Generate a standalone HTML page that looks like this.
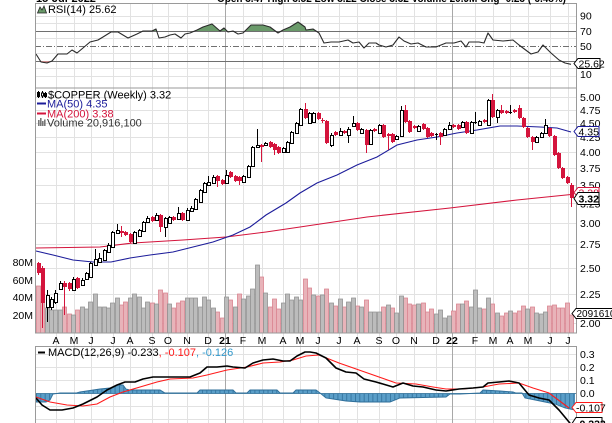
<!DOCTYPE html>
<html><head><meta charset="utf-8">
<style>
html,body{margin:0;padding:0;background:#fff;width:612px;height:423px;overflow:hidden;}
svg{display:block;font-family:"Liberation Sans",Arial,sans-serif;}
</style></head><body>
<svg width="612" height="423" viewBox="0 0 612 423" xmlns="http://www.w3.org/2000/svg">
<defs>
<clipPath id="cpP"><rect x="35" y="88" width="542" height="245"/></clipPath>
<clipPath id="cpM"><rect x="35" y="346" width="542" height="80"/></clipPath>
<clipPath id="cpAbove"><rect x="35" y="3" width="542" height="28"/></clipPath>
<clipPath id="cpBelow"><rect x="35" y="61" width="542" height="27"/></clipPath>
<pattern id="vb" x="36" y="0" width="4.37" height="20" patternUnits="userSpaceOnUse">
<rect x="0" y="0" width="4.37" height="20" fill="#5a9ec8"/>
<rect x="0" y="0" width="0.8" height="20" fill="#2f6f9a"/>
</pattern>
</defs>
<rect x="0" y="0" width="612" height="423" fill="#fff"/>

<!-- GRID -->
<path fill="none" stroke="#e2e2e2" stroke-width="1" d="M56.5,3V423M74.5,3V423M91.5,3V423M113.5,3V423M130.5,3V423M152.5,3V423M168.5,3V423M187.5,3V423M208.5,3V423M243.5,3V423M262.5,3V423M283.5,3V423M300.5,3V423M318.5,3V423M339.5,3V423M357.5,3V423M379.5,3V423M396.5,3V423M414.5,3V423M436.5,3V423M475.5,3V423M493.5,3V423M510.5,3V423M528.5,3V423M550.5,3V423M568.5,3V423
M35,16.5H577M35,23.5H577M35,38.5H577M35,53.5H577M35,68.5H577M35,76.5H577
M35,97.5H577M35,110.5H577M35,123.5H577M35,137.5H577M35,152.5H577M35,168.5H577M35,185.5H577M35,203.5H577M35,223.5H577M35,244.5H577M35,268.5H577M35,294.5H577M35,323.5H577
M35,354.5H577M35,367.5H577M35,380.5H577M35,393.5H577M35,406.5H577M35,419.5H577"/>
<path fill="none" stroke="#a8a8a8" stroke-width="1" d="M225.5,3V423M452.5,3V423"/>
<path fill="none" stroke="#707070" stroke-width="1" d="M35,31.5H577M35,61.5H577"/>
<path fill="none" stroke="#707070" stroke-width="1" stroke-dasharray="6,2,1,2" d="M35,46.5H577"/>

<!-- RSI -->
<g>
<polygon clip-path="url(#cpAbove)" fill="#6a9a6a" points="36,54 41,62 47,63 52,61 58,54 67,54 72,50 77,53 83,48 90,42 98,40 103,37 111,32 118,32 128,38 137,34 143,31 152,31 156,29 159,38 165,37 170,35 175,34 181,38 185,34 190,33 197,30 203,27 212,24 220,31 224,28 228,32 233,31 238,34 243,33 251,25 263,25 270,27 278,33 283,30 290,27 298,22 305,27 306,30 313,29 319,33 324,43 331,42 339,42 348,40 353,43 359,42 364,48 369,43 376,43 379,45 386,47 393,45 399,37 404,41 411,44 418,43 426,47 436,47 446,43 454,43 461,41 466,47 469,42 479,42 484,43 488,33 493,40 503,41 513,40 519,45 531,54 538,52 543,45 551,53 559,60 565,63 571,64.3 571,31 36,31"/>
<polygon clip-path="url(#cpBelow)" fill="#cf8f8f" points="36,54 41,62 47,63 52,61 58,54 67,54 72,50 77,53 83,48 90,42 98,40 571,40 571,61 36,61"/>
<polyline fill="none" stroke="#2a2a2a" stroke-width="1.1" stroke-linejoin="round" points="36,54 41,62 47,63 52,61 58,54 67,54 72,50 77,53 83,48 90,42 98,40 103,37 111,32 118,32 128,38 137,34 143,31 152,31 156,29 159,38 165,37 170,35 175,34 181,38 185,34 190,33 197,30 203,27 212,24 220,31 224,28 228,32 233,31 238,34 243,33 251,25 263,25 270,27 278,33 283,30 290,27 298,22 305,27 306,30 313,29 319,33 324,43 331,42 339,42 348,40 353,43 359,42 364,48 369,43 376,43 379,45 386,47 393,45 399,37 404,41 411,44 418,43 426,47 436,47 446,43 454,43 461,41 466,47 469,42 479,42 484,43 488,33 493,40 503,41 513,40 519,45 531,54 538,52 543,45 551,53 559,60 565,63 571,64.3"/>
</g>

<!-- VOLUME -->
<g clip-path="url(#cpP)" stroke-width="0.8">
<path fill="#e8b3b9" stroke="#d9838f" d="M36.5,286h4V333h-4zM40.5,300h4V333h-4zM62.5,307h4V333h-4zM67.5,314h4V333h-4zM75.5,310h4V333h-4zM119.5,305h4V333h-4zM123.5,302h4V333h-4zM150.5,303h4V333h-4zM158.5,290h4V333h-4zM163.5,293h4V333h-4zM171.5,308h4V333h-4zM176.5,303h4V333h-4zM180.5,301h4V333h-4zM215.5,312h4V333h-4zM220.5,318h4V333h-4zM228.5,300h4V333h-4zM237.5,294h4V333h-4zM259.5,277h4V333h-4zM268.5,307h4V333h-4zM272.5,299h4V333h-4zM276.5,309h4V333h-4zM303.5,279h4V333h-4zM307.5,288h4V333h-4zM316.5,296h4V333h-4zM324.5,289h4V333h-4zM333.5,306h4V333h-4zM342.5,307h4V333h-4zM355.5,306h4V333h-4zM364.5,300h4V333h-4zM381.5,307h4V333h-4zM390.5,308h4V333h-4zM403.5,298h4V333h-4zM407.5,304h4V333h-4zM412.5,305h4V333h-4zM421.5,303h4V333h-4zM425.5,312h4V333h-4zM429.5,309h4V333h-4zM451.5,311h4V333h-4zM456.5,304h4V333h-4zM464.5,301h4V333h-4zM482.5,309h4V333h-4zM490.5,304h4V333h-4zM499.5,316h4V333h-4zM504.5,313h4V333h-4zM512.5,313h4V333h-4zM517.5,311h4V333h-4zM521.5,306h4V333h-4zM530.5,307h4V333h-4zM547.5,306h4V333h-4zM552.5,305h4V333h-4zM556.5,308h4V333h-4zM560.5,308h4V333h-4zM565.5,303h4V333h-4zM569.5,315h4V333h-4z"/>
<path fill="#bcbcbc" stroke="#929292" d="M45.5,308h4V333h-4zM49.5,310h4V333h-4zM53.5,310h4V333h-4zM58.5,310h4V333h-4zM71.5,315h4V333h-4zM80.5,307h4V333h-4zM84.5,309h4V333h-4zM88.5,302h4V333h-4zM93.5,294h4V333h-4zM97.5,307h4V333h-4zM102.5,307h4V333h-4zM106.5,308h4V333h-4zM110.5,303h4V333h-4zM115.5,298h4V333h-4zM128.5,298h4V333h-4zM132.5,294h4V333h-4zM137.5,297h4V333h-4zM141.5,308h4V333h-4zM145.5,302h4V333h-4zM154.5,304h4V333h-4zM167.5,304h4V333h-4zM185.5,298h4V333h-4zM189.5,298h4V333h-4zM193.5,298h4V333h-4zM198.5,307h4V333h-4zM202.5,297h4V333h-4zM206.5,300h4V333h-4zM211.5,308h4V333h-4zM224.5,297h4V333h-4zM233.5,307h4V333h-4zM241.5,299h4V333h-4zM246.5,296h4V333h-4zM250.5,289h4V333h-4zM255.5,265h4V333h-4zM263.5,293h4V333h-4zM281.5,303h4V333h-4zM285.5,294h4V333h-4zM289.5,300h4V333h-4zM294.5,297h4V333h-4zM298.5,300h4V333h-4zM311.5,295h4V333h-4zM320.5,295h4V333h-4zM329.5,303h4V333h-4zM338.5,299h4V333h-4zM346.5,302h4V333h-4zM351.5,298h4V333h-4zM359.5,307h4V333h-4zM368.5,312h4V333h-4zM372.5,312h4V333h-4zM377.5,312h4V333h-4zM386.5,305h4V333h-4zM394.5,313h4V333h-4zM399.5,296h4V333h-4zM416.5,304h4V333h-4zM434.5,314h4V333h-4zM438.5,310h4V333h-4zM442.5,318h4V333h-4zM447.5,316h4V333h-4zM460.5,304h4V333h-4zM469.5,307h4V333h-4zM473.5,290h4V333h-4zM477.5,308h4V333h-4zM486.5,298h4V333h-4zM495.5,313h4V333h-4zM508.5,311h4V333h-4zM525.5,309h4V333h-4zM534.5,313h4V333h-4zM539.5,314h4V333h-4zM543.5,312h4V333h-4z"/>
</g>

<!-- MOVING AVERAGES -->
<g clip-path="url(#cpP)" fill="none" stroke-width="1.1">
<polyline stroke="#d4143c" points="36,248 100,247 133,243 183,240 226,237 266,232 300,227 367,217 450,208 517,200 571,194.5"/>
<polyline stroke="#1c1c9a" points="36,251 53,255 73,260 93,262 111,262 130,258 150,255 173,252 193,247 213,242 233,235 250,227 266,215 286,203 300,193 317,183 337,175 357,165 377,157 397,145 417,140 437,137 457,133 477,130 500,126 517,126 540,127 557,128 571,132"/>
</g>

<!-- CANDLES -->
<g clip-path="url(#cpP)">
<path fill="none" stroke="#000" stroke-width="1" d="M47.5,290V322M51.5,297V310M55.5,290V304M60.5,281V290M73.5,277V291M82.5,278V286M86.5,272V280M90.5,262V278M95.5,249V266M99.5,253V263M104.5,249V261M108.5,243V253M112.5,231V248M117.5,224V234M134.5,231V244M139.5,229V237M143.5,221V232M147.5,216V223M156.5,213V221M165.5,217V237M169.5,216V224M178.5,207V220M187.5,208V221M191.5,206V212M195.5,198V210M200.5,189V203M204.5,182V193M208.5,176V186M213.5,175V184M226.5,170V184M243.5,175V183M248.5,165V178M252.5,146V167M257.5,129V148M265.5,142V146M283.5,147V153M287.5,141V153M291.5,131V144M296.5,122V134M300.5,108V126M309.5,112V124M313.5,112V123M331.5,133V147M340.5,128V136M348.5,127V143M353.5,116V127M361.5,128V134M370.5,129V145M379.5,124V134M396.5,135V140M401.5,106V137M418.5,125V132M436.5,133V140M435,134.5h3M444.5,128V136M449.5,122V130M462.5,121V128M471.5,121V134M475.5,112V124M474,122.5h3M479.5,120V126M488.5,99V126M497.5,109V123M510.5,105V114M509,112.5h3M536.5,136V143M541.5,132V138M545.5,119V134"/>
<path fill="#fff" stroke="#000" stroke-width="1" d="M46.5,295.5h3v12h-3zM50.5,299.5h3v8h-3zM54.5,293.5h3v9h-3zM59.5,283.5h3v6h-3zM72.5,279.5h3v11h-3zM81.5,280.5h3v5h-3zM85.5,273.5h3v6h-3zM89.5,263.5h3v14h-3zM94.5,259.5h3v6h-3zM98.5,258.5h3v4h-3zM103.5,250.5h3v10h-3zM107.5,245.5h3v7h-3zM111.5,232.5h3v15h-3zM116.5,230.5h3v3h-3zM133.5,232.5h3v11h-3zM138.5,230.5h3v6h-3zM142.5,222.5h3v9h-3zM146.5,218.5h3v4h-3zM155.5,215.5h3v5h-3zM164.5,218.5h3v9h-3zM168.5,217.5h3v6h-3zM177.5,213.5h3v6h-3zM186.5,210.5h3v10h-3zM190.5,208.5h3v3h-3zM194.5,199.5h3v10h-3zM199.5,190.5h3v12h-3zM203.5,183.5h3v9h-3zM207.5,182.5h3v3h-3zM212.5,177.5h3v6h-3zM225.5,175.5h3v8h-3zM242.5,176.5h3v6h-3zM247.5,166.5h3v11h-3zM251.5,147.5h3v19h-3zM256.5,145.5h3v2h-3zM264.5,143.5h3v2h-3zM282.5,148.5h3v4h-3zM286.5,142.5h3v10h-3zM290.5,132.5h3v11h-3zM295.5,123.5h3v10h-3zM299.5,109.5h3v16h-3zM308.5,113.5h3v10h-3zM312.5,113.5h3v9h-3zM330.5,135.5h3v10h-3zM339.5,131.5h3v4h-3zM347.5,129.5h3v6h-3zM352.5,123.5h3v3h-3zM360.5,129.5h3v4h-3zM369.5,130.5h3v14h-3zM378.5,125.5h3v8h-3zM395.5,136.5h3v3h-3zM400.5,110.5h3v26h-3zM417.5,126.5h3v5h-3zM443.5,129.5h3v6h-3zM448.5,125.5h3v4h-3zM461.5,122.5h3v5h-3zM470.5,122.5h3v11h-3zM478.5,121.5h3v4h-3zM487.5,100.5h3v25h-3zM496.5,110.5h3v7h-3zM535.5,137.5h3v5h-3zM540.5,133.5h3v4h-3zM544.5,125.5h3v8h-3z"/>
<path fill="none" stroke="#d4143c" stroke-width="1" d="M38.5,262V275M42.5,266V328M64.5,281V315M69.5,282V291M77.5,277V289M121.5,226V237M125.5,231V236M130.5,233V243M152.5,216V222M160.5,214V232M173.5,216V221M182.5,212V221M217.5,175V187M222.5,179V185M230.5,171V178M235.5,175V182M239.5,176V185M261.5,144V162M270.5,141V148M274.5,143V155M278.5,146V154M305.5,103V119M318.5,112V120M322.5,118V123M326.5,120V144M335.5,131V136M344.5,130V134M357.5,122V131M366.5,129V153M374.5,128V132M383.5,124V138M388.5,133V150M392.5,133V143M405.5,105V123M409.5,120V133M414.5,125V129M423.5,123V130M427.5,127V138M431.5,132V137M440.5,132V145M453.5,124V128M458.5,124V130M466.5,121V134M484.5,119V123M492.5,94V118M501.5,105V114M506.5,110V114M514.5,109V113M519.5,105V119M523.5,117V128M527.5,127V138M532.5,136V150M549.5,127V137M554.5,135V156M558.5,152V169M562.5,167V179M567.5,176V184M571.5,183V207"/>
<path fill="#d4143c" stroke="none" d="M37,263h4v10h-4zM41,268h4v35h-4zM63,283h4v4h-4zM68,283h4v6h-4zM76,278h4v10h-4zM120,231h4v2h-4zM124,232h4v3h-4zM129,234h4v8h-4zM151,217h4v4h-4zM159,215h4v12h-4zM172,217h4v3h-4zM181,213h4v7h-4zM216,176h4v5h-4zM221,180h4v4h-4zM229,172h4v5h-4zM234,176h4v5h-4zM238,177h4v4h-4zM260,145h4v2h-4zM269,142h4v5h-4zM273,144h4v6h-4zM277,147h4v6h-4zM304,109h4v9h-4zM317,113h4v6h-4zM321,120h4v1h-4zM325,121h4v22h-4zM334,132h4v3h-4zM343,131h4v2h-4zM356,123h4v7h-4zM365,130h4v15h-4zM373,129h4v2h-4zM382,125h4v12h-4zM387,134h4v2h-4zM391,134h4v8h-4zM404,110h4v12h-4zM408,121h4v11h-4zM413,126h4v2h-4zM422,124h4v5h-4zM426,128h4v9h-4zM430,133h4v3h-4zM439,133h4v4h-4zM452,125h4v2h-4zM457,125h4v4h-4zM465,122h4v11h-4zM483,120h4v2h-4zM491,100h4v17h-4zM500,110h4v3h-4zM505,111h4v2h-4zM513,110h4v2h-4zM518,108h4v10h-4zM522,118h4v9h-4zM526,128h4v9h-4zM531,137h4v5h-4zM548,128h4v8h-4zM553,136h4v19h-4zM557,153h4v15h-4zM561,168h4v10h-4zM566,177h4v6h-4zM570,185h4v13h-4z"/>
</g>

<!-- MACD -->
<g clip-path="url(#cpM)">
<path fill="url(#vb)" stroke="none" d="M36,393.5L36,402L46,402L50,400L53,394L60,393L76,393L80,392L90,390.5L100,389L110,388L117,385L123,385L126,389L130,390L160,390L165,393L197,393L200,390L233,390L236,393L247,393L250,390L277,390L280,393L293,393L296,390L316,390L320,393L326,398L346,401L360,402L390,402L400,398L446,397L450,394L460,394L480,393L483,390L500,391L513,392L516,393L522,393L525,398L545,402L555,404L565,408L575,410L575,393.5Z"/>
<polyline fill="none" stroke="#2f6f9a" stroke-width="0.9" points="36,402 46,402 50,400 53,394 60,393 76,393 80,392 90,390.5 100,389 110,388 117,385 123,385 126,389 130,390 160,390 165,393 197,393 200,390 233,390 236,393 247,393 250,390 277,390 280,393 293,393 296,390 316,390 320,393 326,398 346,401 360,402 390,402 400,398 446,397 450,394 460,394 480,393 483,390 500,391 513,392 516,393 522,393 525,398 545,402 555,404 565,408 575,410"/>
<line x1="35" y1="393.5" x2="577" y2="393.5" stroke="#2f6f9a" stroke-width="0.7"/>
<polyline fill="none" stroke="#ff1a1a" stroke-width="1.1" points="36,397 50,402 67,405 83,406 97,404 110,397 123,392 140,387 157,382 170,379 193,378 207,375 227,370 247,367 263,363 280,362 293,360 306,356 319,355 339,363 359,370 379,377 396,383 416,384 433,387 446,389 463,389 483,387 499,384 519,383 533,388 549,393 569,408"/>
<polyline fill="none" stroke="#000" stroke-width="1.6" stroke-linejoin="round" points="36,398 42,405 50,410 62,410 73,408 83,404 97,397 107,390 117,385 125,382 135,382 143,379 153,377 167,377 180,377 190,377 200,373 207,367 217,367 227,366 233,367 245,368 253,363 263,360 273,359 283,361 290,361 297,356 305,352 310,352 316,353 326,358 336,368 346,372 356,373 364,379 376,382 393,387 403,383 413,386 423,387 436,390 446,391 459,389 473,388 483,387 488,383 499,382 509,381 519,383 529,395 539,398 549,400 559,410 569,422 574,428"/>
</g>

<!-- PANEL BORDERS -->
<g fill="none" stroke="#9a9a9a" stroke-width="1">
<rect x="35.5" y="3.5" width="541" height="84.5"/>
<rect x="35.5" y="88" width="541" height="245"/>
<rect x="35.5" y="346.5" width="541" height="80"/>
</g>

<!-- header (cut off) -->
<text x="36" y="2" font-size="11" font-weight="bold" fill="#000">15-Jul-2022</text>
<text x="217" y="2" font-size="11" font-weight="bold" fill="#000" textLength="349" lengthAdjust="spacingAndGlyphs">Open 3.47  High 3.52  Low 3.22  Close 3.32  Volume 20.9M  Chg -0.23 (-6.48%)</text>

<!-- RSI legend -->
<path d="M37.5,13 L40,7 L42,10 L44,6 L46.5,13 Z" fill="#6a9a6a" stroke="#222" stroke-width="0.8"/>
<text x="48" y="13" font-size="11" fill="#000">RSI(14) 25.62</text>

<!-- price legend -->
<g stroke="#000" stroke-width="1">
<line x1="38.5" y1="91" x2="38.5" y2="98"/><rect x="37.5" y="92.5" width="2" height="4" fill="#000"/>
<line x1="42.5" y1="91" x2="42.5" y2="98"/><rect x="41.5" y="93" width="2" height="3" fill="#fff"/>
<line x1="45.5" y1="92" x2="45.5" y2="98"/><rect x="44.5" y="93.5" width="2" height="3" fill="#000"/>
</g>
<text x="48" y="98.5" font-size="11" fill="#000">$COPPER (Weekly) 3.32</text>
<line x1="37" y1="103.5" x2="46" y2="103.5" stroke="#1c1c9a" stroke-width="2"/>
<text x="47" y="107.5" font-size="11" fill="#1c1c9a">MA(50) 4.35</text>
<line x1="37" y1="113.5" x2="46" y2="113.5" stroke="#d4143c" stroke-width="2"/>
<text x="47" y="117.5" font-size="11" fill="#d4143c">MA(200) 3.38</text>
<g fill="#777"><rect x="38" y="120" width="1.6" height="6"/><rect x="40" y="118" width="1.6" height="8"/><rect x="42" y="121" width="1.6" height="5"/><rect x="44" y="119.5" width="1.6" height="6.5"/></g>
<text x="47" y="126.5" font-size="11" fill="#333">Volume 20,916,100</text>

<!-- MACD legend -->
<line x1="38" y1="352.5" x2="45" y2="352.5" stroke="#000" stroke-width="2"/>
<text x="48" y="356" font-size="11"><tspan fill="#000">MACD(12,26,9) -0.233</tspan><tspan fill="#ff1a1a">, -0.107</tspan><tspan fill="#3399cc">, -0.126</tspan></text>

<!-- RSI axis labels -->
<g font-size="10.5" fill="#000">
<text x="580" y="19.5">90</text>
<text x="580" y="35">70</text>
<text x="580" y="50">50</text>
<text x="580" y="65">30</text>
<text x="580" y="78">10</text>
</g>
<!-- price axis labels -->
<g font-size="10.5" fill="#000">
<text x="580" y="101">5.00</text>
<text x="580" y="114">4.75</text>
<text x="580" y="127">4.50</text>
<text x="580" y="141">4.25</text>
<text x="580" y="156">4.00</text>
<text x="580" y="172">3.75</text>
<text x="580" y="189">3.50</text>
<text x="580" y="207.5">3.25</text>
<text x="580" y="227">3.00</text>
<text x="580" y="248">2.75</text>
<text x="580" y="272">2.50</text>
<text x="580" y="298">2.25</text>
<text x="580" y="327">2.00</text>
</g>
<!-- volume axis labels -->
<g font-size="10.5" fill="#000" text-anchor="end">
<text x="33" y="266">80M</text>
<text x="33" y="284">60M</text>
<text x="33" y="301">40M</text>
<text x="33" y="319">20M</text>
</g>
<!-- MACD axis labels -->
<g font-size="10.5" fill="#000">
<text x="580" y="358">0.3</text>
<text x="580" y="371">0.2</text>
<text x="580" y="384">0.1</text>
<text x="580" y="397">0.0</text>
<text x="580" y="410">-0.1</text>
</g>
<!-- month labels -->
<g font-size="10.5" fill="#000" text-anchor="middle">
<text x="56" y="344">A</text><text x="74" y="344">M</text><text x="91" y="344">J</text><text x="113" y="344">J</text>
<text x="130" y="344">A</text><text x="152" y="344">S</text><text x="168" y="344">O</text><text x="187" y="344">N</text>
<text x="208" y="344">D</text><text x="225" y="344" font-weight="bold">21</text><text x="243" y="344">F</text><text x="262" y="344">M</text>
<text x="283" y="344">A</text><text x="300" y="344">M</text><text x="318" y="344">J</text><text x="339" y="344">J</text>
<text x="357" y="344">A</text><text x="379" y="344">S</text><text x="396" y="344">O</text><text x="414" y="344">N</text>
<text x="436" y="344">D</text><text x="452" y="344" font-weight="bold">22</text><text x="475" y="344">F</text><text x="493" y="344">M</text>
<text x="510" y="344">A</text><text x="528" y="344">M</text><text x="550" y="344">J</text><text x="568" y="344">J</text>
</g>

<!-- value boxes -->
<path d="M574,63.5 L578,58.5 L600,58.5 L600,68.5 L578,68.5 Z" fill="#fff" stroke="#000" stroke-width="1"/>
<text x="578.5" y="67.3" font-size="10.5" fill="#000">25.62</text>

<path d="M574,131.5 L578,126.5 L599,126.5 L599,136.5 L578,136.5 Z" fill="#fff" stroke="#1c1c9a" stroke-width="1"/>
<text x="578.5" y="135.3" font-size="10.5" fill="#000">4.35</text>

<path d="M574,192.5 L578,187.5 L599,187.5 L599,197.5 L578,197.5 Z" fill="#fff" stroke="#d4143c" stroke-width="1"/>
<text x="578.5" y="196.3" font-size="10.5" fill="#d4143c">3.38</text>
<path d="M574,198.5 L578,192.5 L599,192.5 L599,204.5 L578,204.5 Z" fill="#fff" stroke="#000" stroke-width="1"/>
<text x="578.5" y="202.5" font-size="10.5" font-weight="bold" fill="#000">3.32</text>

<path d="M572,313.5 L576,308.5 L614,308.5 L614,318.5 L576,318.5 Z" fill="#fff" stroke="#000" stroke-width="1"/>
<text x="576.5" y="317.2" font-size="10" fill="#000">20916100</text>

<path d="M572,407.5 L576,402.5 L602,402.5 L602,412.5 L576,412.5 Z" fill="#fff" stroke="#ff1a1a" stroke-width="1"/>
<text x="576" y="411.3" font-size="10.5" fill="#000">-0.107</text>
<path d="M572,423.5 L576,417.5 L602,417.5 L602,429.5 L576,429.5 Z" fill="#fff" stroke="#000" stroke-width="1"/>
<text x="576" y="427.5" font-size="10.5" font-weight="bold" fill="#000">-0.233</text>
</svg>
</body></html>
